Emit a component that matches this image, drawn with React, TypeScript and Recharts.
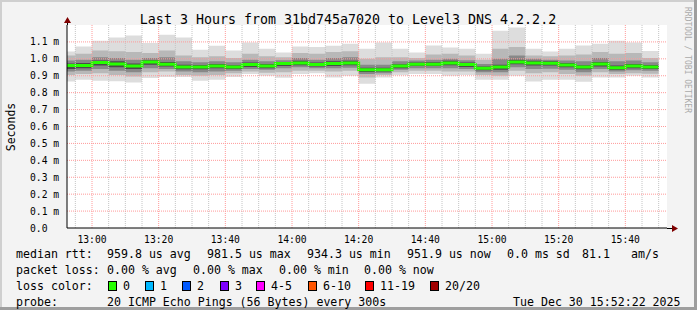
import { Area, CartesianGrid, ComposedChart, Line, ReferenceLine, XAxis, YAxis } from "recharts";

const FONT = "'DejaVu Sans Mono', monospace";

// start of each 5 min bucket, minutes after 12:00 (first one is cut by the left edge)
const slotStart = [52.5, 55, 60, 65, 70, 75, 80, 85, 90, 95, 100, 105, 110, 115, 120, 125, 130, 135, 140, 145, 150, 155, 160, 165, 170, 175, 180, 185, 190, 195, 200, 205, 210, 215, 220, 225];
const slotEnd = 230;

// rtt in ms
const median = [0.96, 0.96, 0.978, 0.97, 0.957, 0.982, 0.968, 0.951, 0.951, 0.958, 0.951, 0.966, 0.958, 0.972, 0.976, 0.966, 0.972, 0.976, 0.935, 0.935, 0.957, 0.968, 0.968, 0.976, 0.966, 0.945, 0.951, 0.982, 0.976, 0.974, 0.964, 0.951, 0.97, 0.947, 0.957, 0.952];
const pingMax = [1.043, 1.073, 1.107, 1.126, 1.138, 1.093, 1.142, 1.126, 1.053, 1.077, 1.049, 1.097, 1.059, 1.037, 1.073, 1.07, 1.077, 1.089, 1.059, 1.097, 1.059, 1.037, 1.079, 1.067, 1.059, 1.03, 1.166, 1.185, 1.059, 1.043, 1.059, 1.079, 1.089, 1.107, 1.097, 1.047];
const pingMin = [0.866, 0.876, 0.87, 0.868, 0.86, 0.886, 0.892, 0.892, 0.87, 0.876, 0.892, 0.911, 0.9, 0.888, 0.911, 0.915, 0.89, 0.9, 0.852, 0.89, 0.903, 0.911, 0.911, 0.9, 0.905, 0.876, 0.876, 0.9, 0.866, 0.876, 0.876, 0.864, 0.89, 0.89, 0.9, 0.89];
const midHi = [1.02, 1.03, 1.05, 1.045, 1.04, 1.035, 1.05, 1.02, 1.01, 1.015, 1.005, 1.03, 1.015, 1.01, 1.035, 1.03, 1.04, 1.045, 1.0, 1.01, 1.01, 1.005, 1.025, 1.03, 1.02, 0.995, 1.06, 1.07, 1.02, 1.015, 1.02, 1.025, 1.04, 1.03, 1.035, 1.005];
const midLo = [0.905, 0.91, 0.915, 0.905, 0.895, 0.92, 0.925, 0.905, 0.9, 0.905, 0.915, 0.925, 0.918, 0.92, 0.93, 0.93, 0.925, 0.93, 0.89, 0.905, 0.92, 0.93, 0.93, 0.925, 0.925, 0.905, 0.9, 0.93, 0.915, 0.92, 0.91, 0.9, 0.92, 0.91, 0.915, 0.912];
const innerHi = [0.99, 0.995, 1.01, 1.005, 0.995, 1.005, 1.01, 0.985, 0.98, 0.985, 0.98, 0.995, 0.985, 0.992, 1.005, 0.995, 1.005, 1.01, 0.965, 0.965, 0.985, 0.99, 0.995, 1.0, 0.992, 0.97, 1.0, 1.02, 1.0, 0.995, 0.99, 0.985, 1.005, 0.985, 0.99, 0.98];
const innerLo = [0.925, 0.93, 0.94, 0.93, 0.92, 0.945, 0.94, 0.925, 0.92, 0.925, 0.93, 0.94, 0.935, 0.945, 0.95, 0.945, 0.945, 0.948, 0.91, 0.915, 0.935, 0.945, 0.945, 0.945, 0.94, 0.92, 0.92, 0.95, 0.94, 0.942, 0.935, 0.92, 0.94, 0.925, 0.932, 0.93];
const coreHi = [0.972, 0.975, 0.99, 0.985, 0.972, 0.992, 0.982, 0.965, 0.963, 0.97, 0.962, 0.978, 0.97, 0.982, 0.988, 0.978, 0.985, 0.988, 0.948, 0.948, 0.968, 0.978, 0.98, 0.988, 0.978, 0.955, 0.965, 0.995, 0.988, 0.985, 0.975, 0.962, 0.982, 0.96, 0.97, 0.963];
const coreLo = [0.94, 0.945, 0.96, 0.95, 0.94, 0.965, 0.955, 0.938, 0.938, 0.945, 0.94, 0.952, 0.945, 0.958, 0.962, 0.955, 0.958, 0.962, 0.922, 0.925, 0.945, 0.958, 0.958, 0.962, 0.952, 0.932, 0.935, 0.968, 0.96, 0.96, 0.95, 0.938, 0.955, 0.935, 0.945, 0.94];

const xTicks = [60, 80, 100, 120, 140, 160, 180, 200, 220];
const xMinor = [55, 65, 70, 75, 85, 90, 95, 105, 110, 115, 125, 130, 135, 145, 150, 155, 165, 170, 175, 185, 190, 195, 205, 210, 215, 225, 230];
const yTicks = [0, 0.1, 0.2, 0.3, 0.4, 0.5, 0.6, 0.7, 0.8, 0.9, 1.0, 1.1];

const lossColors = [
  { label: "0", color: "#26ff00", x: 108 },
  { label: "1", color: "#00b8ff", x: 145 },
  { label: "2", color: "#0059ff", x: 182 },
  { label: "3", color: "#7e00ff", x: 220 },
  { label: "4-5", color: "#ff00ff", x: 256 },
  { label: "6-10", color: "#ff5500", x: 308 },
  { label: "11-19", color: "#ff0000", x: 365 },
  { label: "20/20", color: "#a10000", x: 430 },
];

const rows = slotStart.map((t, i) => ({
  t,
  outer: [pingMin[i], pingMax[i]],
  mid: [midLo[i], midHi[i]],
  inner: [innerLo[i], innerHi[i]],
  core: [coreLo[i], coreHi[i]],
  median: median[i],
}));
rows.push({ ...rows[rows.length - 1], t: slotEnd });

const fmtTime = (m: number) => `${Math.floor(m / 60) + 12}:${String(m % 60).padStart(2, "0")}`;

function YTick({ y, payload }: any) {
  const v = payload.value;
  return (
    <text x={30} y={y} dy={3.5} fontSize={9.7} fontFamily={FONT} fill="#000">
      {v === 0 ? "0.0" : `${v.toFixed(1)} m`}
    </text>
  );
}

function Txt({ x, y, children, size = 11.6 }: any) {
  return (
    <text x={x} y={y} fontSize={size} fontFamily={FONT} fill="#000" style={{ whiteSpace: "pre" }}>
      {children}
    </text>
  );
}

export default function App() {
  return (
    <div style={{ position: "relative", width: 697, height: 310, background: "#f3f3f3" }}>
      <style>{`body{margin:0}`}</style>
      <ComposedChart width={697} height={310} data={rows} margin={{ top: 25, right: 30, bottom: 62, left: 7 }}>
        <CartesianGrid horizontal={false} vertical={false} fill="#ffffff" />
        <XAxis
          type="number"
          dataKey="t"
          domain={[52.5, 232.5]}
          ticks={xTicks}
          tickFormatter={fmtTime}
          tickLine={false}
          axisLine={{ stroke: "#000" }}
          height={20}
          tick={{ fill: "#000", fontSize: 9.7, fontFamily: FONT }}
          interval={0}
          allowDataOverflow
        />
        <YAxis
          type="number"
          domain={[0, 1.2]}
          ticks={yTicks}
          width={60}
          tickLine={false}
          axisLine={{ stroke: "#000" }}
          tick={<YTick />}
          interval={0}
          allowDataOverflow
        />
        <Area type="stepAfter" dataKey="outer" stroke="none" fill="#dddddd" fillOpacity={1} isAnimationActive={false} activeDot={false} />
        <Area type="stepAfter" dataKey="mid" stroke="none" fill="#b8b8b8" fillOpacity={1} isAnimationActive={false} activeDot={false} />
        <Area type="stepAfter" dataKey="inner" stroke="none" fill="#888888" fillOpacity={1} isAnimationActive={false} activeDot={false} />
        <Area type="stepAfter" dataKey="core" stroke="none" fill="#4a4a4a" fillOpacity={1} isAnimationActive={false} activeDot={false} />
        <Line type="stepAfter" dataKey="median" stroke="#26ff00" strokeWidth={3} dot={false} activeDot={false} isAnimationActive={false} />
        {xMinor.map((v) => (
          <ReferenceLine key={`mx${v}`} x={v} stroke="#c4c4c4" strokeDasharray="1 1" />
        ))}
        {xTicks.map((v) => (
          <ReferenceLine key={`x${v}`} x={v} stroke="#ff9a9a" strokeDasharray="1 1" />
        ))}
        {yTicks.slice(1).map((v) => (
          <ReferenceLine key={`y${v}`} y={v} stroke="#ff9a9a" strokeDasharray="1 1" />
        ))}
      </ComposedChart>
      <svg width={697} height={310} style={{ position: "absolute", left: 0, top: 0, pointerEvents: "none" }}>
        <line x1={0} y1={1} x2={697} y2={1} stroke="#cfcfcf" strokeWidth={2} />
        <line x1={1} y1={0} x2={1} y2={310} stroke="#cfcfcf" strokeWidth={2} />
        <line x1={695.5} y1={0} x2={695.5} y2={310} stroke="#9e9e9e" strokeWidth={3} />
        <line x1={0} y1={308.5} x2={697} y2={308.5} stroke="#9e9e9e" strokeWidth={3} />
        <text x={348} y={24} textAnchor="middle" fontSize={13.3} fontFamily={FONT} fill="#000">
          Last 3 Hours from 31bd745a7020 to Level3 DNS 4.2.2.2
        </text>
        <text x={0} y={0} transform="translate(15,127) rotate(-90)" textAnchor="middle" fontSize={11.5} fontFamily={FONT} fill="#000">
          Seconds
        </text>
        <text x={0} y={0} transform="translate(685,60) rotate(90)" textAnchor="middle" fontSize={8} fontFamily={FONT} fill="#aaaaaa">
          RRDTOOL / TOBI OETIKER
        </text>
        <line x1={667} y1={228.5} x2={672} y2={228.5} stroke="#000" />
        <path d="M672,225 L678,228.5 L672,232 Z" fill="#7f0000" />
        <line x1={67.5} y1={25} x2={67.5} y2={22} stroke="#000" />
        <path d="M64,23 L67.5,17 L71,23 Z" fill="#7f0000" />
        <Txt x={16} y={258}>median rtt:</Txt>
        <Txt x={107} y={258}>959.8 us avg</Txt>
        <Txt x={207} y={258}>981.5 us max</Txt>
        <Txt x={307} y={258}>934.3 us min</Txt>
        <Txt x={407} y={258}>951.9 us now</Txt>
        <Txt x={507} y={258}>0.0 ms sd</Txt>
        <Txt x={582} y={258}>81.1</Txt>
        <Txt x={631} y={258}>am/s</Txt>
        <Txt x={16} y={274}>packet loss:</Txt>
        <Txt x={107} y={274}>0.00 % avg</Txt>
        <Txt x={193} y={274}>0.00 % max</Txt>
        <Txt x={279} y={274}>0.00 % min</Txt>
        <Txt x={364} y={274}>0.00 % now</Txt>
        <Txt x={16} y={290}>loss color:</Txt>
        {lossColors.map((c) => (
          <g key={c.label}>
            <rect x={c.x + 0.5} y={281.5} width={8} height={9} fill={c.color} stroke="#000" />
            <Txt x={c.x + 15} y={290}>{c.label}</Txt>
          </g>
        ))}
        <Txt x={16} y={306}>probe:</Txt>
        <Txt x={107} y={306}>20 ICMP Echo Pings (56 Bytes) every 300s</Txt>
        <Txt x={513} y={306}>Tue Dec 30 15:52:22 2025</Txt>
      </svg>
    </div>
  );
}
